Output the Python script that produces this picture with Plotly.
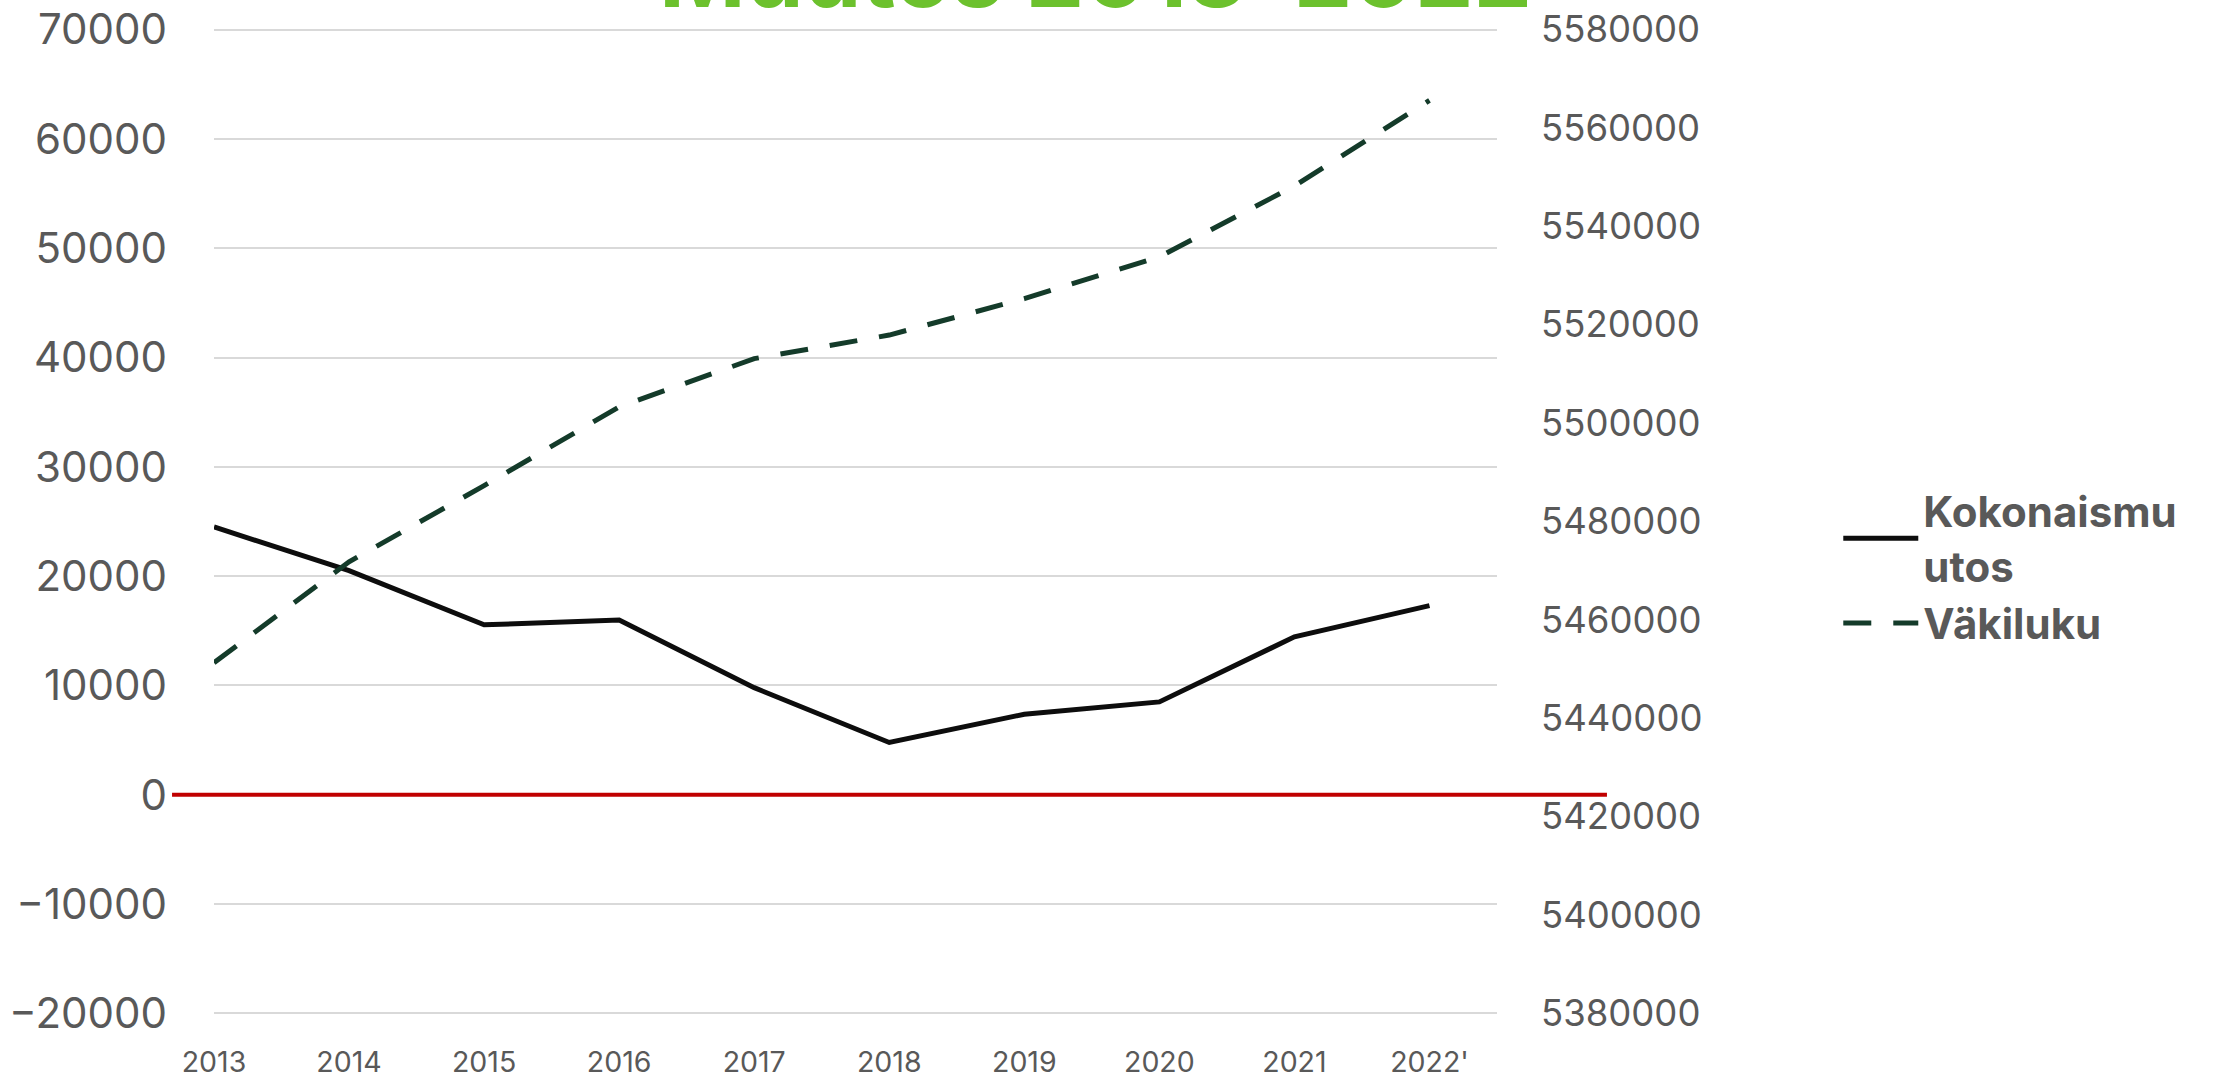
import plotly.graph_objects as go

years = ["2013", "2014", "2015", "2016", "2017", "2018", "2019", "2020", "2021", "2022'"]
kokonaismuutos = [24500, 20500, 15550, 15990, 9800, 4790, 7370, 8500, 14450, 17300]
vakiluku = [5451300, 5471800, 5487300, 5503300, 5513100, 5517900, 5525300, 5533800, 5548200, 5565600]

left_ticks = list(range(-20000, 70001, 10000))
right_ticks = list(range(5380000, 5580001, 20000))

FONT = "Inter, 'Open Sans', sans-serif"
GREY = "#595959"

fig = go.Figure()
fig.add_trace(go.Scatter(
    x=years, y=kokonaismuutos, name="Kokonaismu<br>utos", mode="lines",
    line=dict(color="#0d0d0d", width=5), yaxis="y"))
fig.add_trace(go.Scatter(
    x=years, y=vakiluku, name="Väkiluku", mode="lines",
    line=dict(color="#143b2a", width=5, dash="28px,22px"), yaxis="y2"))

pad_l = 140
pad_r = pad_l * 200000 / 90000

fig.update_layout(
    template="none",
    width=2223, height=1081,
    margin=dict(l=214, r=726, t=28, b=66, autoexpand=False),
    paper_bgcolor="white", plot_bgcolor="white",
    font=dict(family=FONT, color=GREY),
    showlegend=True,
    legend=dict(x=1.266, y=0.545, xanchor="left", yanchor="top",
                font=dict(size=42, color=GREY, family=FONT, weight="bold"),
                tracegroupgap=0, itemwidth=75, bgcolor="rgba(0,0,0,0)", borderwidth=0),
    xaxis=dict(type="category", range=[0, 9.5], showgrid=False, zeroline=False,
               showline=False, ticks="", tickfont=dict(size=28.5, color=GREY),
               ticklabelstandoff=27, automargin=False),
    xaxis2=dict(overlaying="x", anchor="free", position=2/9, range=[0, 9.5],
                tickmode="array", tickvals=list(range(len(years))),
                ticks="outside", ticklen=12, tickwidth=1.5, tickcolor="#d9d9d9",
                showticklabels=False, showgrid=False, zeroline=False, showline=False,
                automargin=False),
    yaxis=dict(range=[-20000 - pad_l, 70000 + pad_l], tickmode="array", tickvals=left_ticks,
               tickformat="d", showgrid=True, gridcolor="#d9d9d9", gridwidth=1.5,
               zeroline=False, showline=False, tickfont=dict(size=42, color=GREY),
               ticklabelstandoff=46, automargin=False),
    yaxis2=dict(overlaying="y", side="right", range=[5380000 - pad_r, 5580000 + pad_r],
                tickmode="array", tickvals=right_ticks, tickformat="d",
                showgrid=False, zeroline=False, showline=False,
                tickfont=dict(size=36.5, color=GREY), ticklabelstandoff=43,
                automargin=False),
)

# red zero line spanning past the plot area
fig.add_shape(type="line", xref="paper", yref="y", x0=-0.0327, x1=1.0857, y0=0, y1=0,
              line=dict(color="#c00000", width=4), layer="above")

fig.add_annotation(text="<b>Muutos 2013–2022</b>", xref="paper", yref="paper",
                   x=0.687, y=1.056, xanchor="center", yanchor="middle",
                   showarrow=False, font=dict(size=93, color="#6cc12d", family=FONT))

fig.write_html("out.html", config={"displayModeBar": False},
               post_script="document.body.style.margin='0';")
